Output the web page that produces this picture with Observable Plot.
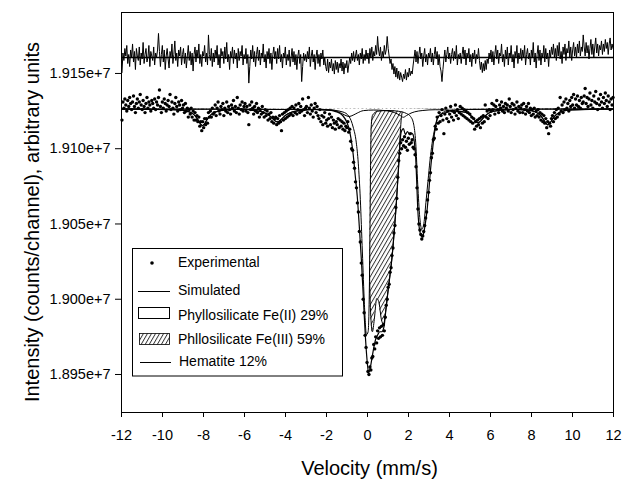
<!DOCTYPE html>
<html><head><meta charset="utf-8">
<script src="https://cdn.jsdelivr.net/npm/d3@7"></script>
<script src="https://cdn.jsdelivr.net/npm/@observablehq/plot@0.6"></script>
<style>
body{margin:0;background:#fff;}
#chart{width:624px;height:479px;}
</style></head><body><div id="chart"></div>
<script>
// ---- data (intensity in thousands of counts/channel) ----
const xTicks = [-12,-10,-8,-6,-4,-2,0,2,4,6,8,10,12];
const xTickLabels = ["-12","-10","-8","-6","-4","-2","0","2","4","6","8","10","12"];
const yTicks = [18950,19000,19050,19100,19150];
const yTickLabels = ["1.895e+7","1.900e+7","1.905e+7","1.910e+7","1.915e+7"];
const baselineK = 19126.4;
const residualOffsetK = 19160.6;   // level at which the residual trace is drawn
const velocityRange = [-12, 12];

// 512 channels, -12 ... +12 mm/s
const experimentalK = [
19119,19131,19127,19133,19129,19125,19132,19128,19134,19130,19126,19131,19135,19128,19124,19130,19133,19127,19131,19136,19129,19126,19132,19128,19124,19130,19134,19127,19131,19129,19125,19132,
19130,19127,19133,19126,19131,19129,19134,19139,19128,19124,19131,19127,19133,19130,19125,19129,19132,19128,19136,19126,19131,19127,19123,19130,19134,19128,19125,19131,19129,19126,19132,19127,
19129,19124,19130,19125,19127,19121,19126,19123,19127,19121,19125,19119,19124,19119,19122,19118,19121,19115,19118,19112,19118,19114,19120,19116,19120,19117,19124,19121,19125,19121,19127,19123,
19124,19129,19122,19127,19131,19125,19123,19128,19126,19130,19122,19127,19125,19131,19124,19128,19126,19123,19129,19127,19132,19125,19128,19124,19134,19127,19123,19129,19126,19131,19125,19128,
19130,19125,19128,19124,19116,19129,19126,19131,19127,19123,19128,19125,19130,19124,19127,19121,19126,19123,19128,19124,19121,19126,19122,19125,19119,19123,19120,19124,19118,19121,19117,19120,
19121,19116,19120,19117,19122,19118,19112,19123,19119,19124,19120,19125,19121,19126,19122,19127,19123,19128,19122,19127,19124,19129,19123,19126,19130,19124,19128,19125,19133,19126,19122,19127,
19128,19124,19134,19127,19123,19129,19125,19121,19127,19130,19124,19128,19122,19120,19126,19118,19122,19116,19121,19124,19117,19119,19115,19120,19123,19116,19121,19114,19119,19117,19113,19118,
19116,19120,19114,19119,19115,19118,19113,19117,19112,19115,19114,19118,19111,19113,19105,19100,19099,19091,19087,19078,19074,19064,19058,19045,19038,19024,19016,19000,18991,18976,18968,18958,
18952,18950,18955,18953,18961,18962,18970,18967,18975,18971,18979,18974,18981,18975,18982,18976,18983,18979,18988,18996,19000,19008,19010,19018,19021,19029,19034,19044,19049,19061,19067,19081,
19092,19097,19104,19100,19106,19102,19108,19101,19105,19099,19107,19103,19110,19104,19106,19101,19100,19096,19088,19074,19060,19050,19046,19043,19040,19042,19045,19049,19054,19058,19066,19071,
19079,19084,19094,19097,19106,19107,19115,19113,19121,19117,19124,19118,19122,19126,19119,19110,19123,19127,19120,19125,19118,19123,19128,19121,19125,19119,19124,19129,19122,19126,19120,19124,
19128,19123,19127,19122,19126,19121,19125,19120,19124,19119,19123,19118,19121,19117,19120,19113,19118,19115,19119,19116,19120,19114,19121,19117,19122,19118,19129,19121,19125,19120,19126,19122,
19125,19130,19126,19129,19123,19128,19132,19126,19124,19129,19127,19131,19125,19128,19124,19130,19127,19129,19125,19133,19128,19124,19130,19126,19129,19123,19127,19131,19125,19128,19124,19127,
19129,19124,19130,19126,19123,19128,19125,19130,19124,19127,19122,19126,19123,19127,19121,19125,19122,19126,19121,19124,19119,19123,19118,19122,19117,19120,19114,19118,19110,19117,19115,19120,
19122,19118,19124,19120,19126,19121,19127,19123,19134,19125,19129,19124,19131,19126,19133,19127,19130,19125,19132,19128,19134,19129,19136,19127,19133,19129,19135,19128,19132,19127,19134,19130,
19131,19135,19140,19130,19134,19128,19133,19137,19129,19132,19127,19135,19131,19138,19130,19126,19133,19129,19136,19131,19127,19134,19130,19137,19132,19128,19135,19131,19126,19133,19129,19134
];

// residual (experimental - simulated), thousands of counts, 512 channels
const residualK = [
-10,3,-2,6,1,8,-4,2,-6,5,0,9,-3,4,-8,6,1,-2,7,-5,3,-1,10,-4,2,6,-3,0,8,-6,4,1,
-2,7,-5,3,0,5,16,4,-6,2,8,-3,5,-8,1,6,-1,-7,4,0,9,-4,2,11,-2,3,-6,5,1,7,-5,2,
6,-4,3,-7,1,8,-2,4,-5,3,-9,2,7,-3,5,0,9,-4,2,-6,4,1,8,-3,3,-5,15,2,-2,6,-6,3,
-3,5,0,8,-5,2,-7,6,1,4,-4,7,-1,10,-3,2,-8,4,0,7,-4,5,-1,3,-7,6,-2,4,1,8,-5,2,
-1,6,-4,2,-17,-6,5,-1,8,-3,4,-6,2,7,-2,5,-5,3,0,9,-3,2,-7,4,-1,6,-4,3,-8,2,7,-1,
4,-4,6,-1,8,-3,2,-7,3,0,7,-5,2,-2,5,-6,0,6,-3,4,-5,2,-8,1,5,-4,2,-16,-6,3,-2,2,
-3,4,-1,7,-6,1,5,-3,2,-8,1,5,-4,2,-6,3,-1,5,-5,0,-6,-9,-1,-10,-3,-7,-1,-9,-4,-11,-2,-8,
-3,-10,-4,-7,-1,-9,-3,-11,-4,-7,-2,-10,-5,0,-4,3,-2,4,-3,1,5,-2,2,-5,3,-1,6,-4,2,-2,5,-1,
3,-4,6,0,7,-2,4,1,8,2,14,5,1,7,-2,4,0,8,2,5,14,6,1,-4,-1,-8,-4,-11,-6,-13,-7,-14,
-9,-15,-10,-13,-16,-11,-14,-8,-15,-10,-13,-7,-12,-9,-11,-5,0,5,-3,4,-4,2,7,-1,3,-6,1,6,-3,2,-5,3,
0,6,-3,3,-5,2,7,-1,4,-5,2,-6,-9,-16,-8,-1,5,-3,2,7,-1,3,-4,2,6,-2,4,-1,8,-5,2,-1,
3,-4,2,7,-1,5,-5,3,0,6,-3,2,-6,3,-1,5,-4,2,-1,6,-2,-8,-3,-10,-4,-9,-2,-8,-1,-4,3,-1,
5,-3,4,-5,2,8,-1,5,-4,3,1,9,-3,2,-6,5,-1,7,-5,3,0,8,-3,2,-7,4,0,8,-4,3,-1,6,
-2,5,0,8,-5,2,6,-1,3,-5,5,0,10,-3,3,-7,2,8,-2,5,-5,3,0,8,-3,6,-1,3,-6,5,0,7,
2,9,0,6,-2,8,1,10,-1,4,-4,7,2,9,-2,6,3,11,0,7,-2,5,10,1,7,0,9,3,11,1,7,4,
15,7,1,10,3,8,-1,6,12,2,9,0,7,13,3,9,1,8,5,11,2,9,4,12,6,10,2,9,13,5,9,6
];

// fitted curves: [velocity, intensity]
const simulatedFit = [[-12,19126.4],[-9.25,19125.8],[-8.85,19125.1],[-8.55,19123.5],[-8.4,19121.7],[-8.25,19118.8],[-8.15,19116.5],[-8.05,19115.4],[-7.95,19116.5],[-7.85,19118.8],[-7.7,19121.7],[-7.55,19123.5],[-7.25,19125.1],[-6.85,19125.8],[-6.0,19126.3],[-5.6,19125.5],[-5.2,19124.7],[-4.9,19123.1],[-4.75,19121.6],[-4.6,19119.6],[-4.5,19118.4],[-4.4,19117.9],[-4.3,19118.4],[-4.2,19119.6],[-4.05,19121.6],[-3.9,19123.1],[-3.6,19124.7],[-3.2,19125.5],[-2.6,19126.1],[-2.0,19125.7],[-1.66,19125.1],[-1.4,19123.9],[-1.2,19121.9],[-1.0,19117.4],[-0.9,19113.4],[-0.8,19106.4],[-0.7,19096.4],[-0.6,19082.4],[-0.5,19068.4],[-0.4,19048.4],[-0.3,19026.4],[-0.2,19000.4],[-0.1,18974.4],[0,18956.4],[0.05,18951.4],[0.1,18952.4],[0.2,18959.4],[0.3,18967.4],[0.4,18973.4],[0.5,18976.4],[0.6,18978.4],[0.7,18978.4],[0.8,18981.4],[0.9,18993.4],[1.0,19005.4],[1.1,19016.4],[1.2,19028.4],[1.3,19044.4],[1.4,19062.4],[1.5,19084.4],[1.55,19095.4],[1.6,19106.4],[1.65,19111.4],[1.75,19113.4],[1.85,19109.4],[1.95,19111.4],[2.05,19109.4],[2.15,19110.4],[2.22,19109.4],[2.3,19102.4],[2.35,19094.4],[2.4,19078.4],[2.45,19060.4],[2.5,19050.4],[2.55,19045.4],[2.6,19042.4],[2.68,19041.4],[2.75,19044.4],[2.8,19048.4],[2.9,19058.4],[3.0,19073.4],[3.07,19085.4],[3.15,19096.4],[3.22,19105.4],[3.3,19113.4],[3.41,19120.4],[3.6,19122.9],[3.8,19123.9],[4.2,19124.9],[4.6,19124.6],[4.9,19123.5],[5.05,19121.9],[5.2,19119.6],[5.3,19118.1],[5.4,19117.4],[5.5,19118.1],[5.6,19119.6],[5.75,19121.9],[5.9,19123.5],[6.2,19125.0],[6.6,19125.7],[7.2,19126.1],[7.6,19125.8],[8.0,19125.2],[8.3,19123.6],[8.45,19121.9],[8.6,19119.1],[8.7,19116.9],[8.8,19115.9],[8.9,19116.9],[9.0,19119.1],[9.15,19121.9],[9.3,19123.6],[9.6,19125.2],[10.0,19125.8],[12,19126.4]];

const fe2Fit = [[-12,19126.4],[-2,19125.9],[-1.2,19124.4],[-0.9,19121.4],[-0.7,19114.4],[-0.55,19104.4],[-0.45,19090.4],[-0.35,19066.4],[-0.25,19031.4],[-0.15,18996.4],[-0.05,18976.4],[0.03,18978.4],[0.1,19016.4],[0.14,19076.4],[0.18,19114.4],[0.25,19122.4],[0.5,19124.9],[1.0,19125.4],[1.5,19124.9],[1.9,19123.4],[2.1,19121.4],[2.25,19116.4],[2.35,19104.4],[2.45,19076.4],[2.55,19054.4],[2.65,19046.4],[2.75,19050.4],[2.85,19064.4],[2.95,19078.4],[3.05,19092.4],[3.15,19103.4],[3.25,19111.4],[3.4,19119.4],[3.6,19123.4],[4.0,19125.4],[5,19126.1],[12,19126.4]];

const fe3Fit = [[-12,19126.4],[-2,19126.1],[-1,19125.4],[-0.6,19123.4],[-0.4,19120.4],[-0.2,19111.4],[-0.1,19096.4],[0,19066.4],[0.08,19026.4],[0.15,18991.4],[0.24,18978.4],[0.33,18986.4],[0.45,19000.4],[0.55,18998.4],[0.68,18986.4],[0.78,18983.4],[0.9,18993.4],[1.0,19005.4],[1.1,19016.4],[1.2,19028.4],[1.3,19044.4],[1.4,19062.4],[1.5,19084.4],[1.55,19096.4],[1.6,19110.4],[1.65,19120.4],[1.72,19124.9],[1.85,19125.9],[2.5,19126.2],[12,19126.4]];

const hematiteFit = [[-12,19126.4],[-9.25,19125.8],[-8.85,19125.1],[-8.55,19123.5],[-8.4,19121.7],[-8.25,19118.8],[-8.15,19116.5],[-8.05,19115.4],[-7.95,19116.5],[-7.85,19118.8],[-7.7,19121.7],[-7.55,19123.5],[-7.25,19125.1],[-6.85,19125.8],[-6.0,19126.3],[-5.6,19125.5],[-5.2,19124.7],[-4.9,19123.1],[-4.75,19121.6],[-4.6,19119.6],[-4.5,19118.4],[-4.4,19117.9],[-4.3,19118.4],[-4.2,19119.6],[-4.05,19121.6],[-3.9,19123.1],[-3.6,19124.7],[-3.2,19125.5],[-2.6,19126.1],[-2.1,19125.9],[-1.6,19125.3],[-1.3,19123.7],[-1.1,19122.3],[-0.9,19121.4],[-0.7,19122.3],[-0.5,19123.7],[-0.2,19125.3],[0.3,19125.7],[0.8,19125.4],[1.2,19124.5],[1.45,19123.2],[1.6,19122.0],[1.75,19120.9],[1.9,19122.0],[2.05,19123.2],[2.3,19124.5],[2.7,19125.4],[3.3,19125.9],[4.0,19125.6],[4.6,19124.6],[4.9,19123.5],[5.05,19121.9],[5.2,19119.6],[5.3,19118.1],[5.4,19117.4],[5.5,19118.1],[5.6,19119.6],[5.75,19121.9],[5.9,19123.5],[6.2,19125.0],[6.6,19125.7],[7.2,19126.1],[7.6,19125.8],[8.0,19125.2],[8.3,19123.6],[8.45,19121.9],[8.6,19119.1],[8.7,19116.9],[8.8,19115.9],[8.9,19116.9],[9.0,19119.1],[9.15,19121.9],[9.3,19123.6],[9.6,19125.2],[10.0,19125.8],[12,19126.4]];

const legendLabels = ["Experimental","Simulated","Phyllosilicate Fe(II) 29%","Phllosilicate Fe(III) 59%","Hematite 12%"];
const xTitle = "Velocity (mm/s)";
const yTitle = "Intensity (counts/channel), arbitrary units";

// ---- build ----
const FONT = "'Liberation Sans', Arial, Helvetica, sans-serif";
const n = experimentalK.length;
const channelV = experimentalK.map((_, i) => velocityRange[0] + (velocityRange[1]-velocityRange[0])*(i+0.5)/n);
const expData = experimentalK.map((k, i) => ({v: channelV[i], k}));
const resData = residualK.map((r, i) => ({v: channelV[i], k: residualOffsetK + r}));
const pts = a => a.map(([v, k]) => ({v, k}));
const sim = pts(simulatedFit), fe2 = pts(fe2Fit), fe3 = pts(fe3Fit), hem = pts(hematiteFit);

const plot = Plot.plot({
  width: 624, height: 479,
  marginLeft: 121, marginRight: 11, marginTop: 12, marginBottom: 67,
  style: {fontFamily: FONT, fontSize: "14.5px", color: "#000", background: "#fff"},
  x: {domain: velocityRange},
  y: {domain: [18924.75, 19190.5]},
  marks: [
    Plot.ruleY([baselineK], {stroke: "#000", strokeWidth: 0.8, strokeDasharray: "3,2,1,2"}),
    Plot.areaY(fe3, {x: "v", y1: () => baselineK, y2: "k", fill: "url(#hatch)", curve: "monotone-x"}),
    Plot.lineY(fe3, {x: "v", y: "k", stroke: "#000", strokeWidth: 1, curve: "monotone-x"}),
    Plot.areaY(fe2, {x: "v", y1: () => baselineK, y2: "k", fill: "#fff", curve: "monotone-x"}),
    Plot.lineY(fe2, {x: "v", y: "k", stroke: "#000", strokeWidth: 1, curve: "monotone-x"}),
    Plot.lineY(hem, {x: "v", y: "k", stroke: "#000", strokeWidth: 1, curve: "monotone-x"}),
    Plot.lineY(sim, {x: "v", y: "k", stroke: "#000", strokeWidth: 1.2, curve: "monotone-x"}),
    Plot.dot(expData, {x: "v", y: "k", r: 1.7, fill: "#000"}),
    Plot.ruleY([residualOffsetK], {stroke: "#000", strokeWidth: 1.3}),
    Plot.lineY(resData, {x: "v", y: "k", stroke: "#000", strokeWidth: 1}),
    Plot.frame({stroke: "#000", strokeWidth: 1}),
    Plot.axisX({ticks: xTicks, tickSize: 5, tickPadding: 12, label: null, tickFormat: d => xTickLabels[xTicks.indexOf(d)]}),
    Plot.axisY({ticks: yTicks, tickSize: 6, tickPadding: 5, label: null, tickFormat: d => yTickLabels[yTicks.indexOf(d)]}),
    Plot.text([xTitle], {text: d => d, frameAnchor: "bottom", dy: 56, dx: 2, fontSize: 20, lineAnchor: "middle"}),
    Plot.text([yTitle], {text: d => d, frameAnchor: "left", dx: -89, dy: 9.5, rotate: -90, fontSize: 20, textAnchor: "middle", lineAnchor: "middle"})
  ]
});

const svg = d3.select(plot);
const defs = svg.insert("defs", ":first-child");
const pat = defs.append("pattern").attr("id", "hatch").attr("patternUnits", "userSpaceOnUse")
  .attr("width", 3.5).attr("height", 10).attr("patternTransform", "rotate(30)");
pat.append("rect").attr("width", 3.5).attr("height", 10).attr("fill", "#fff");
pat.append("line").attr("x1", 0.5).attr("y1", 0).attr("x2", 0.5).attr("y2", 10).attr("stroke", "#000").attr("stroke-width", 0.8);

// legend
const lg = svg.append("g").attr("font-family", FONT).attr("font-size", 14).attr("fill", "#000")
  .attr("text-anchor", "start").style("text-anchor", "start");
lg.append("rect").attr("x", 132.5).attr("y", 248.5).attr("width", 210).attr("height", 127.5)
  .attr("fill", "#fff").attr("stroke", "#000").attr("stroke-width", 1);
const baselines = [266.5, 295, 320, 344, 366];
const textX = [178, 178, 178, 178, 179];
lg.selectAll("text").data(legendLabels).join("text")
  .attr("x", (d, i) => textX[i]).attr("y", (d, i) => baselines[i])
  .attr("text-anchor", "start").style("text-anchor", "start").text(d => d);
lg.append("circle").attr("cx", 152).attr("cy", 263).attr("r", 1.8).attr("fill", "#000");
lg.append("line").attr("x1", 138).attr("x2", 170).attr("y1", 291.5).attr("y2", 291.5).attr("stroke", "#000");
lg.append("rect").attr("x", 138.5).attr("y", 307.5).attr("width", 31).attr("height", 11).attr("fill", "#fff").attr("stroke", "#000");
lg.append("rect").attr("x", 139.5).attr("y", 333.5).attr("width", 30).attr("height", 11).attr("fill", "url(#hatch)").attr("stroke", "#000").attr("stroke-width", 0.8);
lg.append("line").attr("x1", 140).attr("x2", 171).attr("y1", 362.5).attr("y2", 362.5).attr("stroke", "#000");

document.getElementById("chart").appendChild(plot);
</script></body></html>
